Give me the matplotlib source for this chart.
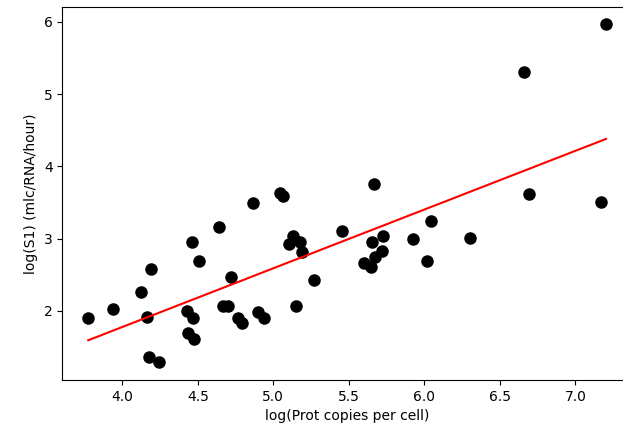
import numpy as np
import matplotlib
matplotlib.use("Agg")
import matplotlib.pyplot as plt

# log protein copies per cell vs log synthesis rate
log_prot = [3.774, 3.940, 4.121, 4.189, 4.165, 4.176, 4.245, 4.463, 4.507, 4.426,
            4.470, 4.437, 4.472, 4.642, 4.719, 4.664, 4.701, 4.768, 4.790, 4.867,
            4.900, 4.938, 5.044, 5.066, 5.128, 5.105, 5.176, 5.187, 5.150, 5.271,
            5.452, 5.655, 5.724, 5.717, 5.673, 5.600, 5.644, 5.926, 6.042, 6.017,
            6.302, 6.695, 7.172, 5.668, 6.662, 7.203]
log_s1 = [1.907, 2.024, 2.258, 2.585, 1.921, 1.360, 1.290, 2.950, 2.687, 2.000,
          1.899, 1.691, 1.617, 3.158, 2.475, 2.069, 2.069, 1.907, 1.830, 3.490,
          1.981, 1.907, 3.628, 3.595, 3.042, 2.922, 2.950, 2.811, 2.069, 2.429,
          3.111, 2.950, 3.042, 2.830, 2.751, 2.668, 2.613, 2.992, 3.249, 2.687,
          3.014, 3.618, 3.512, 3.752, 5.310, 5.970]

x = np.array(log_prot)
y = np.array(log_s1)
slope, intercept = np.polyfit(x, y, 1)

fig = plt.figure(figsize=(6.23, 4.33), dpi=100)
ax = fig.add_axes([0.1002, 0.1224, 0.913, 0.8621])

ax.scatter(x, y, s=64, color='black', zorder=2)
xs = np.array([x.min(), x.max()])
ax.plot(xs, slope * xs + intercept, color='red', linewidth=1.5, zorder=3)

ax.set_xlim(3.603, 7.37)
ax.set_ylim(1.045, 6.21)
ax.set_xticks([4.0, 4.5, 5.0, 5.5, 6.0, 6.5, 7.0])
ax.set_yticks([2, 3, 4, 5, 6])
ax.set_xlabel("log(Prot copies per cell)")
ax.set_ylabel("log(S1) (mlc/RNA/hour)")

fig.savefig("out.png", dpi=100)
